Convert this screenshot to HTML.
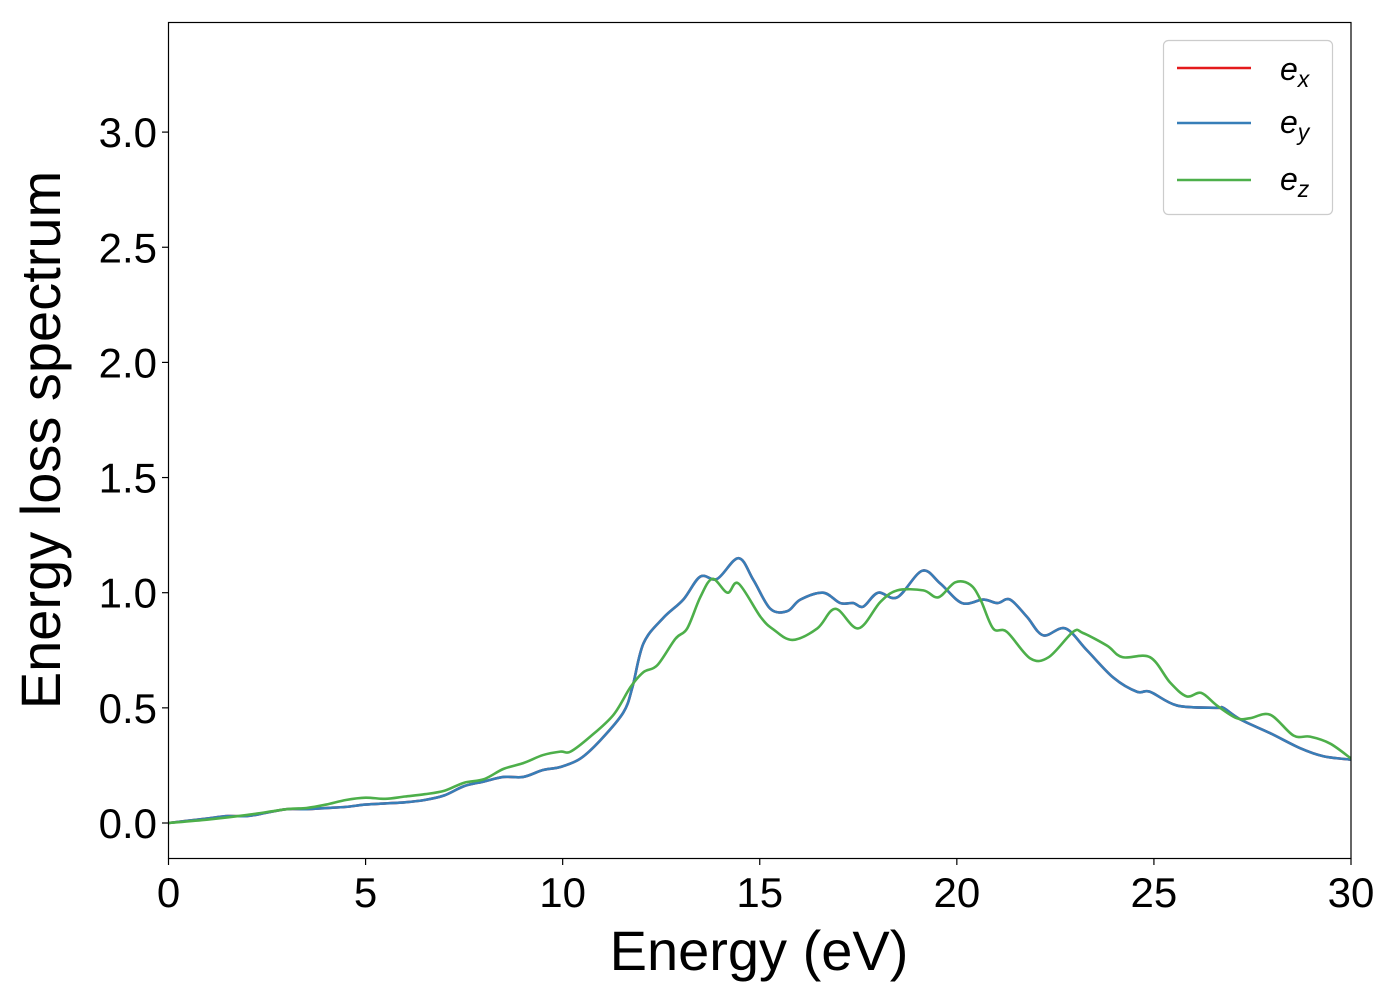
<!DOCTYPE html>
<html><head><meta charset="utf-8"><style>
html,body{margin:0;padding:0;background:#fff;}
svg{display:block;font-family:"Liberation Sans","DejaVu Sans",sans-serif;}
</style></head><body>
<svg id="chart" width="1400" height="1000" viewBox="0 0 1400 1000" xmlns="http://www.w3.org/2000/svg">
<rect x="0" y="0" width="1400" height="1000" fill="#fff"/>
<g id="marks"></g>
<g id="axes"></g>
<rect x="168.5" y="22.5" width="1182.5" height="836" fill="none" stroke="#000" stroke-width="1.2"/>
<text x="60" y="440" font-size="56" text-anchor="middle" transform="rotate(-90 60 440)">Energy loss spectrum</text>
<text x="759" y="970" font-size="56" text-anchor="middle">Energy (eV)</text>
<g>
<rect x="1163.5" y="40.5" width="169" height="174" rx="5" fill="#fff" stroke="#ccc" stroke-width="1.2"/>
<g><line x1="1177" y1="68" x2="1251" y2="68" stroke="#e41a1c" stroke-width="2.5"/><text x="1280" y="80" font-size="32" font-style="italic">e<tspan font-size="23" dy="7">x</tspan></text></g>
<g><line x1="1177" y1="123" x2="1251" y2="123" stroke="#377eb8" stroke-width="2.5"/><text x="1280" y="133" font-size="32" font-style="italic">e<tspan font-size="23" dy="7">y</tspan></text></g>
<g><line x1="1177" y1="180" x2="1251" y2="180" stroke="#4daf4a" stroke-width="2.5"/><text x="1280" y="190" font-size="32" font-style="italic">e<tspan font-size="23" dy="7">z</tspan></text></g>
</g>
</svg>
<script>
const xTicks = [0, 5, 10, 15, 20, 25, 30];
const yTicks = [0.0, 0.5, 1.0, 1.5, 2.0, 2.5, 3.0];
const xyEnergy = [0,0.5,1,1.5,2,2.5,3,3.5,4,4.5,5,5.5,6,6.5,7,7.5,8,8.5,9,9.5,9.94,10.45,10.96,11.54,11.77,12.05,12.55,13.06,13.49,13.92,14.46,14.84,15.27,15.7,16.03,16.61,17.04,17.37,17.63,18.0,18.49,19.12,19.58,20.13,20.67,21.03,21.35,21.78,22.19,22.75,23.3,23.98,24.57,24.9,25.59,26.6,26.76,27.19,27.95,28.71,29.3,30];
const exValues = [0,0.01,0.02,0.03,0.03,0.045,0.06,0.06,0.065,0.07,0.08,0.085,0.09,0.1,0.12,0.16,0.18,0.2,0.2,0.23,0.243,0.28,0.36,0.48,0.59,0.78,0.89,0.97,1.07,1.06,1.15,1.055,0.93,0.92,0.97,1.0,0.955,0.955,0.94,1.0,0.98,1.095,1.04,0.955,0.97,0.955,0.97,0.895,0.815,0.845,0.75,0.63,0.57,0.57,0.51,0.5,0.5,0.45,0.39,0.325,0.29,0.275];
const eyValues = exValues.slice();
const zEnergy = [0,1,2,3,3.5,4,4.5,5,5.5,6,6.5,7,7.5,8,8.5,9,9.5,9.94,10.2,10.7,11.29,11.72,12.05,12.4,12.86,13.16,13.49,13.8,14.18,14.46,15.02,15.35,15.83,16.46,16.92,17.5,18.06,18.49,19.15,19.53,19.96,20.34,20.6,20.92,21.27,21.86,22.33,22.95,23.2,23.81,24.2,24.9,25.41,25.83,26.2,26.6,27.1,27.44,27.95,28.54,28.96,29.47,30];
const ezValues = [0,0.015,0.035,0.06,0.065,0.08,0.1,0.11,0.105,0.115,0.125,0.14,0.175,0.19,0.235,0.26,0.295,0.31,0.31,0.375,0.47,0.59,0.655,0.685,0.8,0.845,0.98,1.06,1.0,1.04,0.895,0.84,0.795,0.845,0.93,0.845,0.96,1.01,1.01,0.98,1.045,1.035,0.97,0.845,0.83,0.715,0.72,0.83,0.825,0.77,0.72,0.72,0.61,0.55,0.565,0.51,0.455,0.455,0.47,0.38,0.375,0.345,0.28];

const X0=168.5, X1=1351, Y0v=823, pxPerY=230.3;
function sx(v){ return X0 + (v-0)/(30-0)*(X1-X0); }
function sy(v){ return Y0v - v*pxPerY; }
const NS="http://www.w3.org/2000/svg";
function smoothPath(xs, ys){
  const p = xs.map((x,i)=>[sx(x), sy(ys[i])]);
  let d = "M"+p[0][0].toFixed(2)+","+p[0][1].toFixed(2);
  for(let i=0;i<p.length-1;i++){
    const a=p[Math.max(0,i-1)], b=p[i], c=p[i+1], e=p[Math.min(p.length-1,i+2)];
    const c1=[b[0]+(c[0]-a[0])/6, b[1]+(c[1]-a[1])/6];
    const c2=[c[0]-(e[0]-b[0])/6, c[1]-(e[1]-b[1])/6];
    d += " C"+c1[0].toFixed(2)+","+c1[1].toFixed(2)+" "+c2[0].toFixed(2)+","+c2[1].toFixed(2)+" "+c[0].toFixed(2)+","+c[1].toFixed(2);
  }
  return d;
}
const marks=document.getElementById('marks');
const clip=document.createElementNS(NS,'clipPath'); clip.setAttribute('id','pc');
const cr=document.createElementNS(NS,'rect'); cr.setAttribute('x',168.5); cr.setAttribute('y',22.5); cr.setAttribute('width',1182.5); cr.setAttribute('height',836);
clip.appendChild(cr); document.getElementById('chart').appendChild(clip);
marks.setAttribute('clip-path','url(#pc)');
function addLine(xs, ys, color, name){
  const pth=document.createElementNS(NS,'path');
  pth.setAttribute('d', smoothPath(xs, ys));
  pth.setAttribute('fill','none'); pth.setAttribute('stroke',color); pth.setAttribute('stroke-width','2.6');
  pth.setAttribute('stroke-linejoin','round');
  
  
  marks.appendChild(pth);
}
addLine(xyEnergy, exValues, '#e41a1c', 'series-ex');
addLine(xyEnergy, eyValues, '#377eb8', 'series-ey');
addLine(zEnergy, ezValues, '#4daf4a', 'series-ez');

const axes=document.getElementById('axes');
xTicks.forEach(t=>{
  const x=sx(t);
  const l=document.createElementNS(NS,'line');
  l.setAttribute('x1',x); l.setAttribute('x2',x); l.setAttribute('y1',858.5); l.setAttribute('y2',865);
  l.setAttribute('stroke','#000'); l.setAttribute('stroke-width','1.2');
  
  
  axes.appendChild(l);
  const tx=document.createElementNS(NS,'text');
  tx.setAttribute('x',x); tx.setAttribute('y',907); tx.setAttribute('font-size','42'); tx.setAttribute('text-anchor','middle');
  tx.textContent=String(t);
  
  
  axes.appendChild(tx);
});
yTicks.forEach(t=>{
  const y=sy(t);
  const l=document.createElementNS(NS,'line');
  l.setAttribute('x1',162); l.setAttribute('x2',168.5); l.setAttribute('y1',y); l.setAttribute('y2',y);
  l.setAttribute('stroke','#000'); l.setAttribute('stroke-width','1.2');
  
  
  axes.appendChild(l);
  const tx=document.createElementNS(NS,'text');
  tx.setAttribute('x',157); tx.setAttribute('y',y+15); tx.setAttribute('font-size','42'); tx.setAttribute('text-anchor','end');
  tx.textContent=t.toFixed(1);
  
  
  axes.appendChild(tx);
});
</script>
</body></html>
